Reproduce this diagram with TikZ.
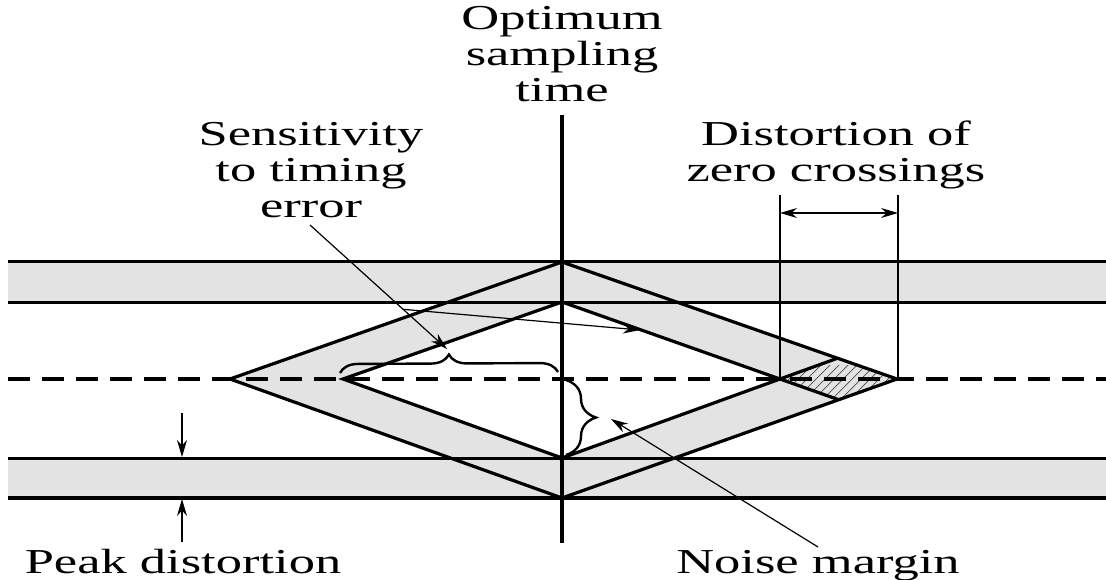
\documentclass[tikz,border=0pt]{standalone}
\usepackage{fontspec}
\setmainfont{Liberation Serif}[FakeStretch=1.5]
\usetikzlibrary{arrows.meta,decorations.pathreplacing,calc}
\definecolor{eyegray}{RGB}{227,227,227}
\begin{document}
\begin{tikzpicture}[x=1pt,y=-1pt,
  bandline/.style={line width=3pt},
  edge/.style={line width=3.2pt, line join=miter},
  thinline/.style={line width=1.2pt},
  tipped/.style={thinline, -{Stealth[length=17pt,width=10pt]}},
  bracestyle/.style={line width=2.4pt, decorate},
  lbl/.style={font=\fontsize{35}{36}\selectfont, align=center, inner sep=0pt}]
\useasboundingbox (0,0) rectangle (1106,580);
% key points
\coordinate (T) at (562,262);
\coordinate (L) at (230,379);
\coordinate (B) at (562,498);
\coordinate (R) at (897,379);
\coordinate (Ti) at (562,302);
\coordinate (Li) at (343,379);
\coordinate (Bi) at (562,458);
\coordinate (Ri) at (780,379);
\coordinate (Xu) at (intersection of Bi--Ri and R--T);
\coordinate (Xd) at (intersection of Ti--Ri and R--B);
% fills
\fill[eyegray] (8,262) rectangle (1106,302);
\fill[eyegray] (8,458) rectangle (1106,498);
\fill[eyegray] (T)--(R)--(B)--(L)--cycle;
\fill[white] (Ti)--(Ri)--(Bi)--(Li)--cycle;
\begin{scope}
  \clip (Ri)--(Xu)--(R)--(Xd)--cycle;
  \foreach \i in {0,...,20} \draw[line width=0.7pt, black!70] (740+\i*9,410) -- ++(45,-45);
\end{scope}
% band lines
\draw[bandline] (8,262) -- (1106,262);
\draw[bandline] (8,302) -- (1106,302);
\draw[bandline] (8,458) -- (1106,458);
\draw[line width=4pt] (8,498) -- (1106,498);
% diamonds
\draw[edge] (T)--(R)--(B)--(L)--cycle;
\draw[edge] (Ti)--(Ri)--(Bi)--(Li)--cycle;
\draw[edge] (Ri)--(Xu);
\draw[edge] (Ri)--(Xd);
% dashed zero line
\draw[line width=4pt, dash pattern=on 22pt off 12pt] (8,379) -- (1106,379);
% optimum sampling time line
\coordinate (vt) at (562,115);
\coordinate (vb) at (562,543);
\draw[line width=3.5pt] (vt) -- (vb);
% braces
\draw[bracestyle, decoration={brace, amplitude=18pt}] (340,373) -- (558,372);
\draw[bracestyle, decoration={brace, amplitude=30pt}] (566,380) -- (566,455);
% labels
\node[lbl, anchor=base] (opt) at (562,102) {Optimum\\sampling\\time};
\node[lbl, anchor=base] (sens) at (311,218) {Sensitivity\\to timing\\error};
\node[lbl, anchor=base] (dist) at (836,182) {Distortion of\\zero crossings};
\node[lbl, anchor=base] (peak) at (183,573) {Peak distortion};
\node[lbl, anchor=base] (noise) at (818,573) {Noise margin};
% sensitivity arrows
\coordinate (e0) at (310,225);
\coordinate (e1) at (447,349);
\coordinate (ebr) at ($(e0)!0.68!(e1)$);
\coordinate (e2) at (640,330);
\draw[tipped] (e0) -- (e1);
\draw[tipped] (ebr) -- (e2);
% noise margin arrow
\coordinate (n0) at (818,547);
\coordinate (n1) at (611,419);
\draw[tipped] (n0) -- (n1);
% peak distortion arrows
\coordinate (p0) at (182,413);
\coordinate (p1) at (182,457);
\coordinate (p2) at (182,542);
\coordinate (p3) at (182,499);
\draw[tipped] (p0) -- (p1);
\draw[tipped] (p2) -- (p3);
% zero crossing distortion
\coordinate (z1t) at (780,195);
\coordinate (z1b) at (780,379);
\coordinate (z2t) at (898,195);
\coordinate (z2b) at (898,379);
\draw[thinline] (z1t) -- (z1b);
\draw[thinline] (z2t) -- (z2b);
\coordinate (za) at (780,213);
\coordinate (zb) at (898,213);
\draw[thinline, {Stealth[length=17pt,width=10pt]}-{Stealth[length=17pt,width=10pt]}] (za) -- (zb);
\end{tikzpicture}
\end{document}
